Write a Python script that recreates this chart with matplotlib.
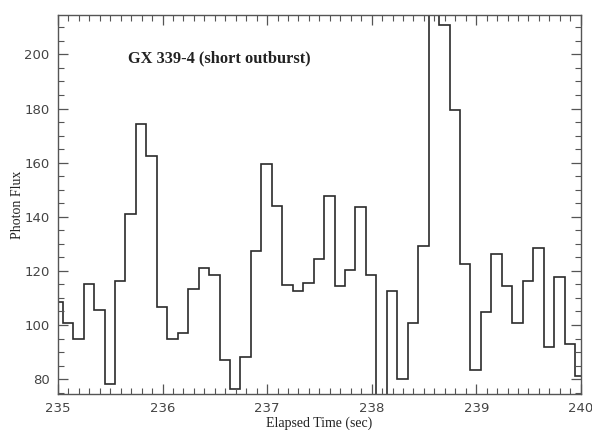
import numpy as np
import matplotlib.pyplot as plt
from matplotlib.ticker import MultipleLocator

# light curve bins: 0.1 s wide, first edge just before 235 s
bin_start = 234.945
bin_width = 0.1
flux = [108.5, 100.8, 94.8, 115.3, 105.5, 78.2, 116.3, 141.0, 174.2, 162.5,
        106.7, 94.8, 97.1, 113.3, 121.2, 118.3, 87.0, 76.3, 88.2, 127.4,
        159.4, 143.9, 114.7, 112.5, 115.6, 124.4, 147.7, 114.5, 120.5, 143.6,
        118.3, 70.0, 112.5, 80.2, 100.8, 129.2, 230.0, 210.7, 179.3, 122.5,
        83.3, 104.9, 126.2, 114.5, 100.8, 116.4, 128.3, 91.9, 117.6, 92.9,
        81.0]
x_ticks = [235, 236, 237, 238, 239, 240]
y_ticks = [80, 100, 120, 140, 160, 180, 200]
label = "GX 339-4 (short outburst)"

edges = bin_start + bin_width * np.arange(len(flux) + 1)

fig = plt.figure(figsize=(5.92, 4.30), dpi=100)
ax = fig.add_axes([0.098, 0.0837, 0.883, 0.881])

ax.stairs(flux, edges, baseline=None, color="#2b2b2b", linewidth=1.2)

ax.set_xlim(235, 240)
ax.set_ylim(74.5, 214.5)
ax.set_xticks(x_ticks)
ax.set_yticks(y_ticks)
ax.xaxis.set_minor_locator(MultipleLocator(0.1))
ax.yaxis.set_minor_locator(MultipleLocator(5))
ax.tick_params(which="both", direction="in", top=True, right=True,
               color="#555555", labelcolor="#444444", labelsize=9.5)
ax.tick_params(which="major", length=7, width=0.9, pad=6)
ax.tick_params(which="minor", length=4, width=0.8)
for s in ax.spines.values():
    s.set_color("#555555")
    s.set_linewidth(1.0)

serif = ["Liberation Serif", "DejaVu Serif"]
ax.text(0.134, 0.885, label, transform=ax.transAxes, fontsize=11.8,
        fontweight="bold", family=serif, color="#222222",
        va="center", ha="left")
ax.set_xlabel("Elapsed Time (sec)", family=serif, fontsize=10, labelpad=1,
              color="#222222")
ax.set_ylabel("Photon Flux", family=serif, fontsize=10, labelpad=0,
              color="#222222")

plt.savefig("out.png", dpi=100)
